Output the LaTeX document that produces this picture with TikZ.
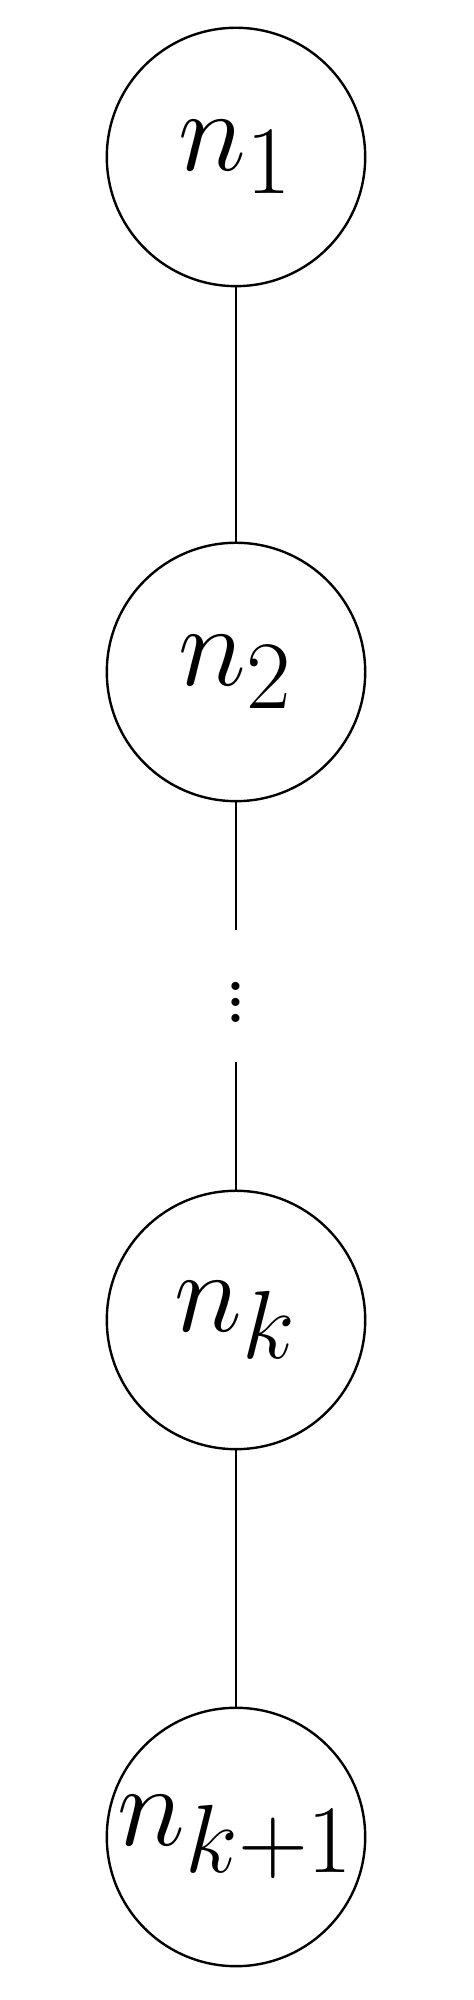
\RequirePackage{fix-cm}
\documentclass[tikz,border=0pt]{standalone}
\usepackage{amsmath,amssymb}
\usepackage{tikz}
\usetikzlibrary{positioning}
\DeclareMathSizes{29}{29}{24.2}{20.1}

\begin{document}
\begin{tikzpicture}[
  x=1pt, y=1pt,
  font=\fontsize{29}{35}\selectfont,
  vertex/.style={draw=black, semithick, circle, minimum size=64.6pt, inner sep=0pt},
  edge/.style={semithick},
]
\useasboundingbox (0,0) rectangle (118.25,500);

\node[vertex] (n1) at (59,460.75) {$n_1$};
\node[vertex] (n2) at (59,332) {$n_2$};
\node[inner sep=0pt, minimum height=32.5pt, font=\Huge] (dots) at (59,251) {\raisebox{3pt}{$\vdots$}};
\node[vertex] (nk) at (59,170) {$n_k$};
\node[vertex] (nk1) at (59,40.75) {$n_{k+1}$};

\draw[edge] (n1) -- (n2);
\draw[edge] (n2) -- (dots);
\draw[edge] (dots) -- (nk);
\draw[edge] (nk) -- (nk1);

\end{tikzpicture}
\end{document}
